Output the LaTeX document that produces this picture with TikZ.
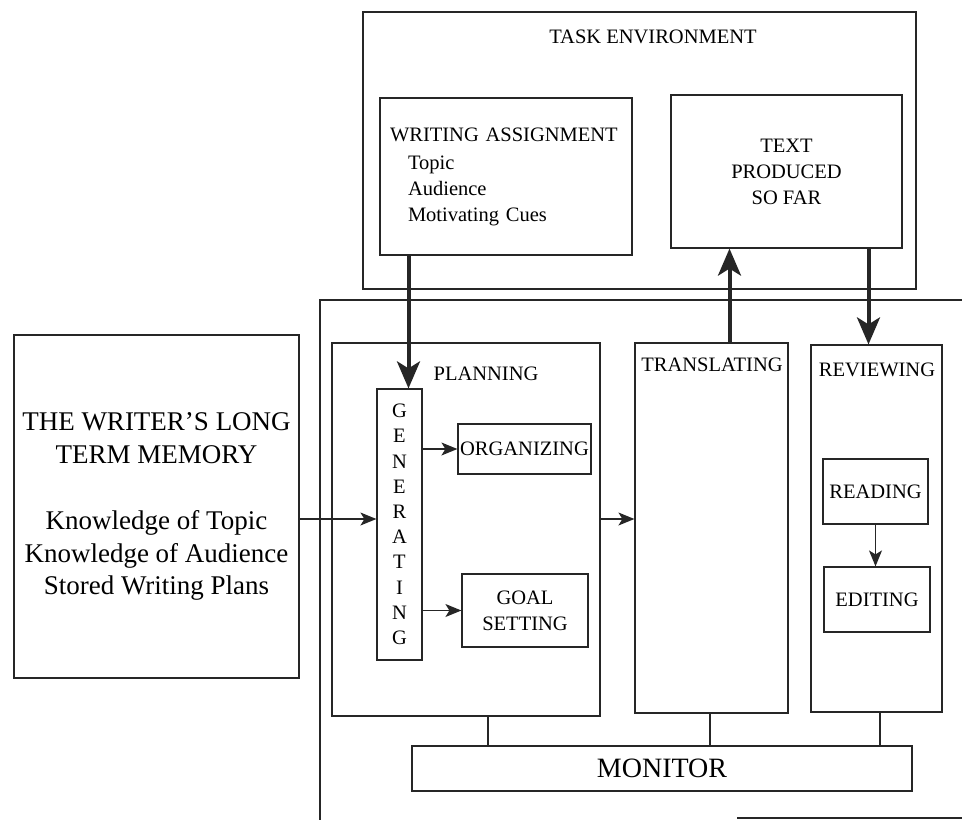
\documentclass[tikz,border=0pt]{standalone}
\usepackage{fontspec}
\setmainfont{Liberation Serif}
\usetikzlibrary{arrows.meta, positioning}

\begin{document}
\begin{tikzpicture}[x=1pt, y=-1pt, line width=1.2pt, draw=black!85,
      every node/.style={inner sep=0pt, font=\fontsize{20.5}{26}\selectfont},
      box/.style 2 args={draw=black!85, minimum width=#1, minimum height=#2},
      thickarrow/.style={-{Stealth[length=27pt,width=23pt,inset=7pt]}, line width=4pt},
      thinarrow/.style={-{Stealth[length=16pt,width=13pt,inset=4pt]}, line width=1.3pt}]
      \useasboundingbox (0,0) rectangle (962,820);
      % task environment
      \node[box={553}{277}] (env) at (639.5,150.5) {};
      \node (env-t) at (653,37) {TASK ENVIRONMENT};
      \node[box={252}{157}, align=left, text width=232pt] (assign) at (506,176.5)
        {WRITING ASSIGNMENT\\[2pt]\hspace*{18pt}Topic\\\hspace*{18pt}Audience\\\hspace*{18pt}Motivating Cues};
      \node[box={231}{153}, align=center] (text) at (786.5,171.5) {TEXT\\PRODUCED\\SO FAR};
      % writing process frame
      \draw (962,300) -- (320,300) -- (320,820);
      \draw (737,818) -- (962,818);
      \node[box={285}{343}, align=center, font=\fontsize{27}{32.5}\selectfont] (ltm) at (156.5,506.5)
        {THE WRITER’S LONG\\TERM MEMORY\\[34pt]Knowledge of Topic\\Knowledge of Audience\\Stored Writing Plans};
      \node[box={268}{373}] (plan) at (466,529.5) {};
      \node (plan-t) at (486,374) {PLANNING};
      \node[box={45}{271}, align=center, font=\fontsize{20.5}{25.2}\selectfont] (gen) at (399.5,524.5)
        {G\\E\\N\\E\\R\\A\\T\\I\\N\\G};
      \node[box={133}{50}] (org) at (524.5,449) {ORGANIZING};
      \node[box={126}{73}, align=center] (goal) at (525,610.5) {GOAL\\SETTING};
      \node[box={153}{370}] (trans) at (711.5,528) {};
      \node (trans-t) at (712,365) {TRANSLATING};
      \node[box={131}{367}] (rev) at (876.5,528.5) {};
      \node (rev-t) at (877,370) {REVIEWING};
      \node[box={105}{65}] (read) at (875.5,491.5) {READING};
      \node[box={106}{65}] (edit) at (877,599.5) {EDITING};
      \node[box={500}{45}, font=\fontsize{28}{32}\selectfont] (mon) at (662,768.5) {MONITOR};
      % arrows
      \draw[thickarrow] ([xshift=9pt]gen.north |- assign.south) -- ([xshift=9pt]gen.north);
      \draw[thickarrow] ([xshift=18pt]trans.north) -- ([xshift=18pt]trans.north |- text.south);
      \draw[thickarrow] ([xshift=-8pt]rev.north |- text.south) -- ([xshift=-8pt]rev.north);
      \coordinate (mid) at ([yshift=5.5pt]gen.west);
      \draw[thinarrow] (ltm.east |- mid) -- (mid);
      \draw[thinarrow] (plan.east |- mid) -- (trans.west |- mid);
      \draw[thinarrow] (gen.east |- org.west) -- (org.west);
      \draw[thinarrow] (gen.east |- goal.west) -- (goal.west);
      \draw[thinarrow] (read.south) -- (read.south |- edit.north);
      % monitor links
      \draw ([xshift=22pt]plan.south) -- ([xshift=22pt]plan.south |- mon.north);
      \draw ([xshift=-1.5pt]trans.south) -- ([xshift=-1.5pt]trans.south |- mon.north);
      \draw ([xshift=3.5pt]rev.south) -- ([xshift=3.5pt]rev.south |- mon.north);
\end{tikzpicture}
\end{document}
